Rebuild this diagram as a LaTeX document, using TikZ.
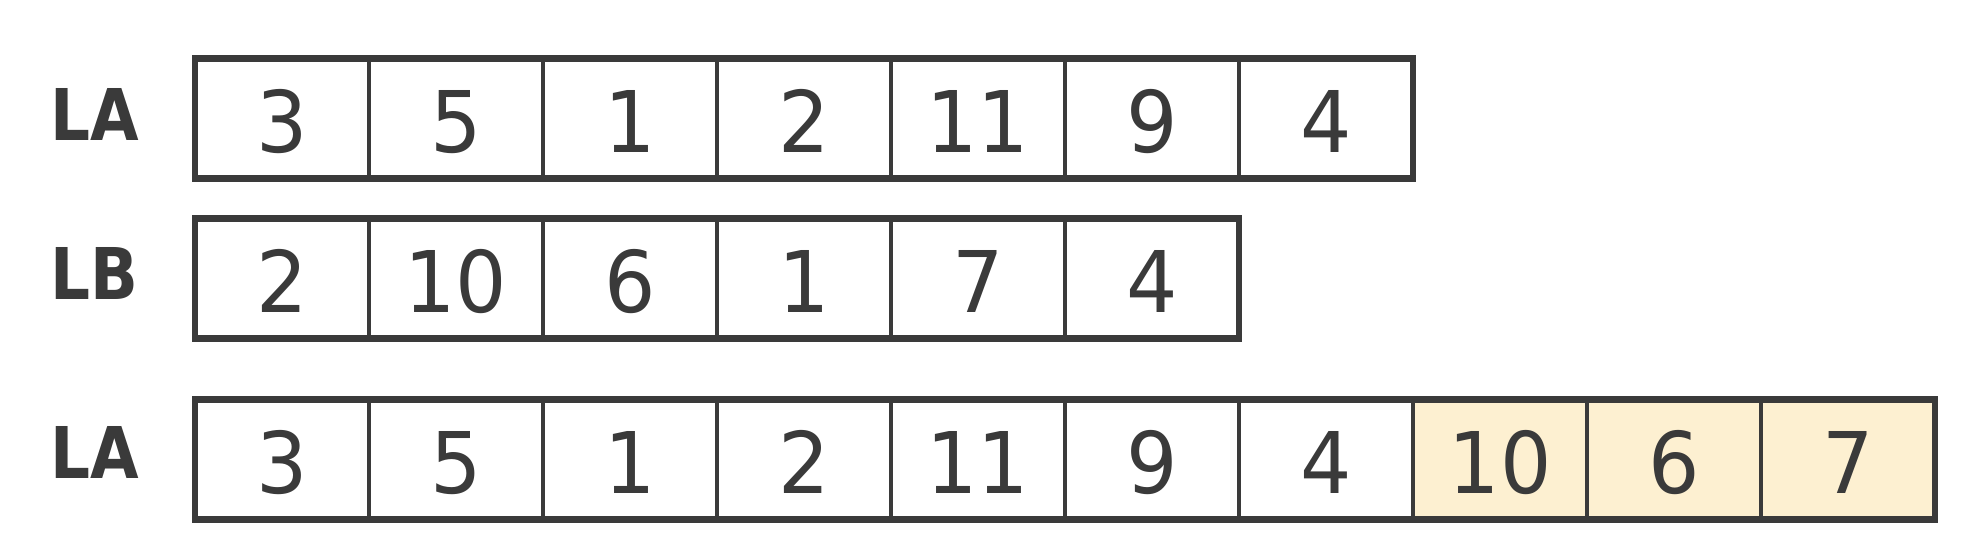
\documentclass[tikz,border=0pt]{standalone}
\usepackage{fontspec}
\newfontfamily\digitfont[FakeStretch=0.95]{DejaVu Sans}
\newfontfamily\labelfont[FakeStretch=0.88]{DejaVu Sans Bold}
\definecolor{ink}{HTML}{3A3A3A}
\definecolor{hlfill}{HTML}{FDF0D1}
\begin{document}
\begin{tikzpicture}[x=0.75pt,y=-0.75pt,
  cell/.style={draw=ink, line width=2.6pt, minimum width=130.5pt, minimum height=90pt,
    inner sep=0pt, outer sep=0pt, text=ink, text height=50.3pt, text depth=0pt,
    font=\digitfont\fontsize{63.8pt}{70pt}\selectfont},
  hl/.style={cell, fill=hlfill},
  frame/.style={draw=ink, line width=5pt},
  lab/.style={anchor=base, inner sep=0pt, text=ink,
    font=\labelfont\fontsize{53.5pt}{60pt}\selectfont}]
\useasboundingbox (0,0) rectangle (1987,539);
% row 1
\foreach \v [count=\i] in {3,5,1,2,11,9,4}
  \node[cell] (a\i) at ({282+174*(\i-1)},118.5) {\v};
\draw[frame] (a1.north west) rectangle (a7.south east);
% row 2
\foreach \v [count=\i] in {2,10,6,1,7,4}
  \node[cell] (b\i) at ({282+174*(\i-1)},278.5) {\v};
\draw[frame] (b1.north west) rectangle (b6.south east);
% row 3
\foreach \v [count=\i] in {3,5,1,2,11,9,4}
  \node[cell] (c\i) at ({282+174*(\i-1)},459.7) {\v};
\foreach \v [count=\i from 8] in {10,6,7}
  \node[hl] (c\i) at ({282+174*(\i-1)},459.7) {\v};
\draw[frame] (c1.north west) rectangle (c10.south east);
% labels
\node[lab] (la) at (94.5,140) {LA};
\node[lab] (lb) at (94.5,299) {LB};
\node[lab] (lc) at (94.5,478) {LA};
\end{tikzpicture}
\end{document}
